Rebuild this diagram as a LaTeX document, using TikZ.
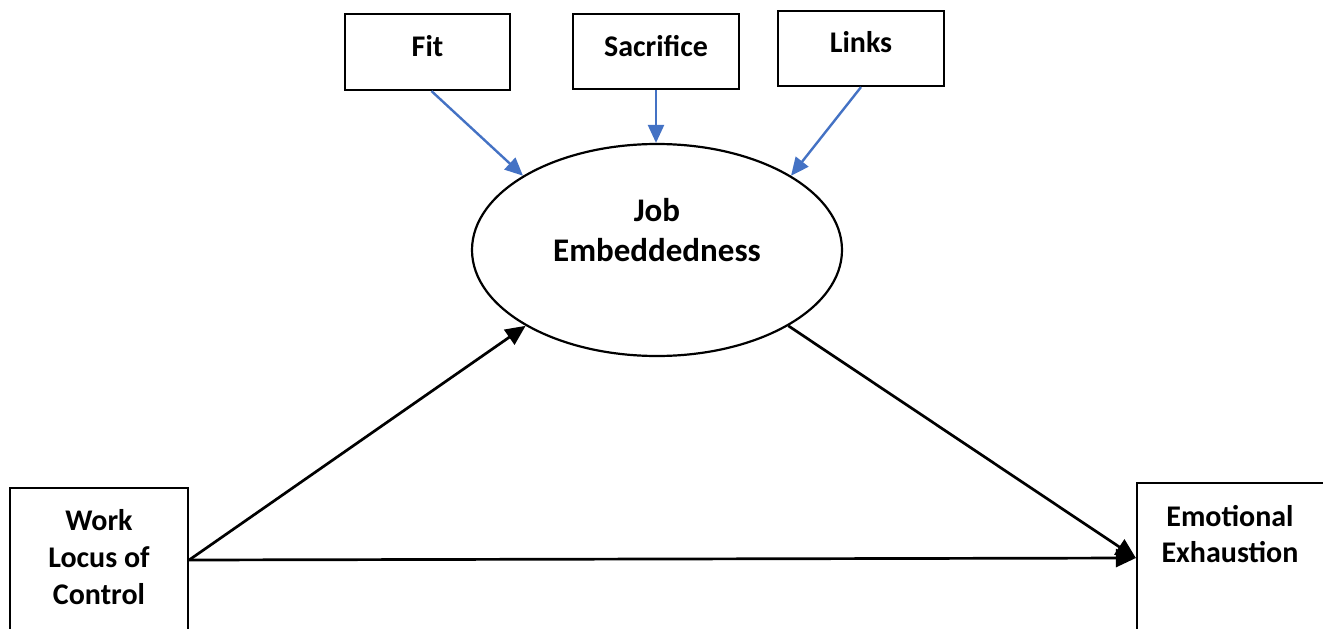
\documentclass[tikz,border=0pt]{standalone}
\usepackage{fontspec}
\setmainfont{Carlito}
\usetikzlibrary{arrows.meta,shapes.geometric}
\definecolor{arrowblue}{HTML}{4472C4}
\begin{document}
\begin{tikzpicture}[x=1pt,y=-1pt,
  box/.style={draw, line width=2.2pt, rectangle, inner sep=0pt},
  lbl/.style={font=\bfseries\fontsize{30}{37}\selectfont, align=center, inner sep=0pt},
  biglbl/.style={font=\bfseries\fontsize{33}{40}\selectfont, align=center, inner sep=0pt},
  bluearr/.style={draw=arrowblue, line width=2.4pt, -{Triangle[length=18pt,width=16pt]}},
  blackarr/.style={draw=black, line width=2.7pt, -{Triangle[length=20pt,width=18pt]}}]
\useasboundingbox (0,0) rectangle (1323,629);
\clip (0,0) rectangle (1323,629);
% boxes
\node[box, minimum width=165pt, minimum height=76pt] (fit) at (427.5,52) {};
\node[box, minimum width=166pt, minimum height=75pt] (sac) at (656,51.5) {};
\node[box, minimum width=166pt, minimum height=75pt] (links) at (861,48.5) {};
\node[draw, ellipse, line width=2.2pt, inner sep=0pt, minimum width=370pt, minimum height=212pt] (je) at (657,250) {};
\node[box, minimum width=178pt, minimum height=144pt] (wlc) at (99,560) {};
\node[box, minimum width=193pt, minimum height=150pt] (ee) at (1233.5,558) {};
% labels
\node[lbl] (fitl) at (427.5,46) {Fit};
\node[lbl] (sacl) at (656,46) {Sacrifice};
\node[lbl] (linksl) at (861,42) {Links};
\node[biglbl] (jel) at (657,230) {Job\\Embeddedness};
\node[lbl] (wlcl) at (99,557) {Work\\Locus of\\Control};
\node[lbl, font=\bfseries\fontsize{30}{36}\selectfont] (eel) at (1230,534) {Emotional\\Exhaustion};
% connectors
\draw[bluearr] ([xshift=4pt]fit.south) -- (je.151);
\draw[bluearr] (sac.south) -- (sac.south |- je.north);
\draw[bluearr] (links.south) -- (je.29);
\draw[blackarr] (wlc.east) -- (je.210);
\draw[blackarr] (wlc.east) -- (ee.west);
\draw[blackarr] (je.330) -- (ee.west);
\end{tikzpicture}
\end{document}
